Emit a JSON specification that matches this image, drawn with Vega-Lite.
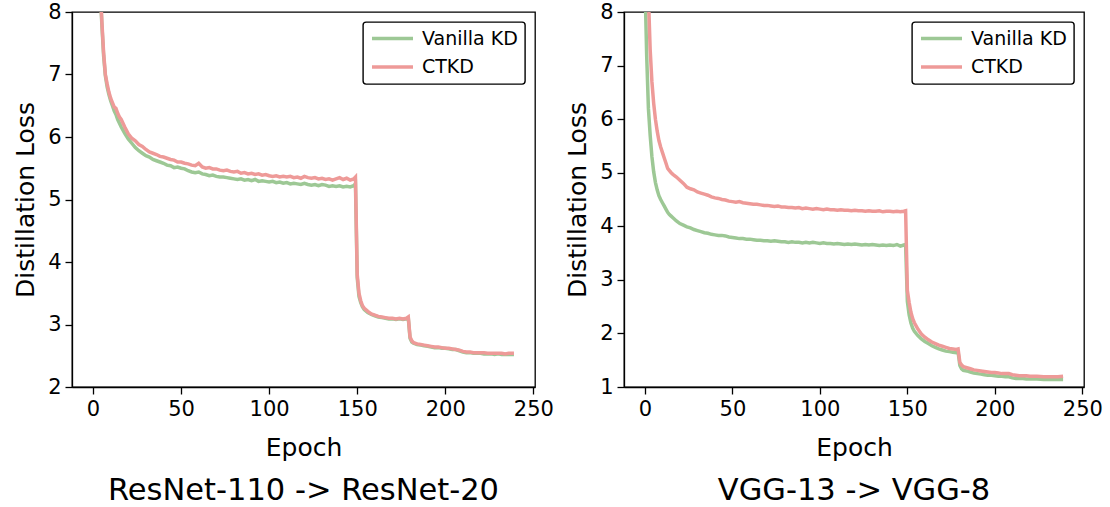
{
  "$schema": "https://vega.github.io/schema/vega-lite/v6.json",
  "background": "white",
  "padding": {"left": 12, "top": 0, "right": 0, "bottom": 0},
  "autosize": {"type": "pad"},
  "spacing": 89,
  "bounds": "flush",
  "config": {
    "font": "DejaVu Sans",
    "view": {"stroke": "black", "strokeWidth": 1.3},
    "axis": {
      "grid": false,
      "domainColor": "black",
      "domainWidth": 1.3,
      "tickColor": "black",
      "tickWidth": 1.3,
      "tickSize": 7,
      "labelFont": "DejaVu Sans",
      "labelFontSize": 21,
      "labelColor": "black",
      "labelPadding": 4,
      "titleFont": "DejaVu Sans",
      "titleFontSize": 25,
      "titleFontWeight": "normal",
      "titleColor": "black"
    },
    "axisY": {"titlePadding": 9},
    "axisX": {"titlePadding": 16},
    "legend": {
      "orient": "top-right",
      "offset": 10,
      "strokeColor": "black",
      "strokeWidth": 1.4,
      "cornerRadius": 3,
      "fillColor": "white",
      "padding": 7,
      "labelFont": "DejaVu Sans",
      "labelFontSize": 19,
      "labelColor": "black",
      "symbolType": "stroke",
      "symbolStrokeWidth": 3.5,
      "symbolSize": 1681,
      "clipHeight": 19,
      "rowPadding": 8.5,
      "labelOffset": 7
    },
    "title": {"font": "DejaVu Sans", "fontWeight": "normal", "fontSize": 30.5, "color": "black"}
  },
  "resolve": {"scale": {"y": "independent", "color": "independent"}, "legend": {"color": "independent"}},
  "datasets": {
    "resnet": [
      {"e": 0, "Vanilla KD": 12.0, "CTKD": 12.2},
      {"e": 1, "Vanilla KD": 10.9, "CTKD": 11.0},
      {"e": 2, "Vanilla KD": 9.9, "CTKD": 10.0},
      {"e": 3, "Vanilla KD": 9.1, "CTKD": 9.2},
      {"e": 4, "Vanilla KD": 8.4, "CTKD": 8.45},
      {"e": 5, "Vanilla KD": 7.8, "CTKD": 7.85},
      {"e": 6, "Vanilla KD": 7.3, "CTKD": 7.35},
      {"e": 7, "Vanilla KD": 6.98, "CTKD": 7.0},
      {"e": 8, "Vanilla KD": 6.8, "CTKD": 6.85},
      {"e": 9, "Vanilla KD": 6.68, "CTKD": 6.72},
      {"e": 10, "Vanilla KD": 6.58, "CTKD": 6.62},
      {"e": 11, "Vanilla KD": 6.5, "CTKD": 6.55},
      {"e": 12, "Vanilla KD": 6.42, "CTKD": 6.48},
      {"e": 13, "Vanilla KD": 6.36, "CTKD": 6.46},
      {"e": 14, "Vanilla KD": 6.28, "CTKD": 6.38},
      {"e": 15, "Vanilla KD": 6.22, "CTKD": 6.32},
      {"e": 16, "Vanilla KD": 6.16, "CTKD": 6.28},
      {"e": 18, "Vanilla KD": 6.06, "CTKD": 6.16},
      {"e": 20, "Vanilla KD": 5.97, "CTKD": 6.05},
      {"e": 22, "Vanilla KD": 5.9, "CTKD": 5.98},
      {"e": 24, "Vanilla KD": 5.83, "CTKD": 5.94},
      {"e": 26, "Vanilla KD": 5.78, "CTKD": 5.88},
      {"e": 28, "Vanilla KD": 5.74, "CTKD": 5.85},
      {"e": 30, "Vanilla KD": 5.7, "CTKD": 5.8},
      {"e": 32, "Vanilla KD": 5.68, "CTKD": 5.76},
      {"e": 34, "Vanilla KD": 5.64, "CTKD": 5.74},
      {"e": 36, "Vanilla KD": 5.62, "CTKD": 5.72},
      {"e": 38, "Vanilla KD": 5.6, "CTKD": 5.69},
      {"e": 40, "Vanilla KD": 5.58, "CTKD": 5.68},
      {"e": 42, "Vanilla KD": 5.55, "CTKD": 5.66},
      {"e": 44, "Vanilla KD": 5.54, "CTKD": 5.64},
      {"e": 46, "Vanilla KD": 5.51, "CTKD": 5.63},
      {"e": 48, "Vanilla KD": 5.52, "CTKD": 5.6},
      {"e": 50, "Vanilla KD": 5.5, "CTKD": 5.6},
      {"e": 52, "Vanilla KD": 5.49, "CTKD": 5.58},
      {"e": 54, "Vanilla KD": 5.46, "CTKD": 5.57},
      {"e": 56, "Vanilla KD": 5.44, "CTKD": 5.55},
      {"e": 58, "Vanilla KD": 5.43, "CTKD": 5.54},
      {"e": 60, "Vanilla KD": 5.44, "CTKD": 5.58},
      {"e": 62, "Vanilla KD": 5.41, "CTKD": 5.52},
      {"e": 64, "Vanilla KD": 5.4, "CTKD": 5.5},
      {"e": 66, "Vanilla KD": 5.38, "CTKD": 5.51},
      {"e": 68, "Vanilla KD": 5.39, "CTKD": 5.49},
      {"e": 70, "Vanilla KD": 5.37, "CTKD": 5.49},
      {"e": 72, "Vanilla KD": 5.36, "CTKD": 5.47},
      {"e": 74, "Vanilla KD": 5.36, "CTKD": 5.46},
      {"e": 76, "Vanilla KD": 5.35, "CTKD": 5.47},
      {"e": 78, "Vanilla KD": 5.34, "CTKD": 5.45},
      {"e": 80, "Vanilla KD": 5.33, "CTKD": 5.44},
      {"e": 82, "Vanilla KD": 5.32, "CTKD": 5.45},
      {"e": 84, "Vanilla KD": 5.33, "CTKD": 5.42},
      {"e": 86, "Vanilla KD": 5.31, "CTKD": 5.43},
      {"e": 88, "Vanilla KD": 5.32, "CTKD": 5.41},
      {"e": 90, "Vanilla KD": 5.3, "CTKD": 5.42},
      {"e": 92, "Vanilla KD": 5.32, "CTKD": 5.4},
      {"e": 94, "Vanilla KD": 5.29, "CTKD": 5.41},
      {"e": 96, "Vanilla KD": 5.3, "CTKD": 5.39},
      {"e": 98, "Vanilla KD": 5.29, "CTKD": 5.4},
      {"e": 100, "Vanilla KD": 5.28, "CTKD": 5.38},
      {"e": 102, "Vanilla KD": 5.29, "CTKD": 5.37},
      {"e": 104, "Vanilla KD": 5.27, "CTKD": 5.38},
      {"e": 106, "Vanilla KD": 5.28, "CTKD": 5.36},
      {"e": 108, "Vanilla KD": 5.26, "CTKD": 5.37},
      {"e": 110, "Vanilla KD": 5.27, "CTKD": 5.36},
      {"e": 112, "Vanilla KD": 5.25, "CTKD": 5.37},
      {"e": 114, "Vanilla KD": 5.26, "CTKD": 5.35},
      {"e": 116, "Vanilla KD": 5.25, "CTKD": 5.36},
      {"e": 118, "Vanilla KD": 5.24, "CTKD": 5.34},
      {"e": 120, "Vanilla KD": 5.26, "CTKD": 5.37},
      {"e": 122, "Vanilla KD": 5.24, "CTKD": 5.35},
      {"e": 124, "Vanilla KD": 5.23, "CTKD": 5.34},
      {"e": 126, "Vanilla KD": 5.24, "CTKD": 5.35},
      {"e": 128, "Vanilla KD": 5.22, "CTKD": 5.33},
      {"e": 130, "Vanilla KD": 5.24, "CTKD": 5.34},
      {"e": 132, "Vanilla KD": 5.23, "CTKD": 5.32},
      {"e": 134, "Vanilla KD": 5.21, "CTKD": 5.33},
      {"e": 136, "Vanilla KD": 5.22, "CTKD": 5.31},
      {"e": 138, "Vanilla KD": 5.21, "CTKD": 5.33},
      {"e": 140, "Vanilla KD": 5.22, "CTKD": 5.35},
      {"e": 142, "Vanilla KD": 5.2, "CTKD": 5.32},
      {"e": 144, "Vanilla KD": 5.21, "CTKD": 5.34},
      {"e": 146, "Vanilla KD": 5.2, "CTKD": 5.31},
      {"e": 148, "Vanilla KD": 5.22, "CTKD": 5.33},
      {"e": 149, "Vanilla KD": 5.25, "CTKD": 5.36},
      {"e": 150, "Vanilla KD": 3.75, "CTKD": 3.8},
      {"e": 151, "Vanilla KD": 3.45, "CTKD": 3.5},
      {"e": 152, "Vanilla KD": 3.35, "CTKD": 3.38},
      {"e": 153, "Vanilla KD": 3.28, "CTKD": 3.3},
      {"e": 154, "Vanilla KD": 3.24, "CTKD": 3.26},
      {"e": 156, "Vanilla KD": 3.19, "CTKD": 3.21},
      {"e": 158, "Vanilla KD": 3.16, "CTKD": 3.17},
      {"e": 160, "Vanilla KD": 3.14, "CTKD": 3.15},
      {"e": 162, "Vanilla KD": 3.12, "CTKD": 3.13},
      {"e": 164, "Vanilla KD": 3.11, "CTKD": 3.12},
      {"e": 166, "Vanilla KD": 3.1, "CTKD": 3.11},
      {"e": 168, "Vanilla KD": 3.09, "CTKD": 3.1},
      {"e": 170, "Vanilla KD": 3.09, "CTKD": 3.1},
      {"e": 172, "Vanilla KD": 3.08, "CTKD": 3.09},
      {"e": 174, "Vanilla KD": 3.09, "CTKD": 3.1},
      {"e": 176, "Vanilla KD": 3.08, "CTKD": 3.09},
      {"e": 178, "Vanilla KD": 3.09, "CTKD": 3.1},
      {"e": 179, "Vanilla KD": 3.1, "CTKD": 3.12},
      {"e": 180, "Vanilla KD": 2.78, "CTKD": 2.8},
      {"e": 181, "Vanilla KD": 2.72, "CTKD": 2.74},
      {"e": 182, "Vanilla KD": 2.7, "CTKD": 2.71},
      {"e": 184, "Vanilla KD": 2.68, "CTKD": 2.69},
      {"e": 186, "Vanilla KD": 2.67, "CTKD": 2.68},
      {"e": 188, "Vanilla KD": 2.66, "CTKD": 2.67},
      {"e": 190, "Vanilla KD": 2.65, "CTKD": 2.66},
      {"e": 192, "Vanilla KD": 2.64, "CTKD": 2.65},
      {"e": 194, "Vanilla KD": 2.63, "CTKD": 2.64},
      {"e": 196, "Vanilla KD": 2.63, "CTKD": 2.64},
      {"e": 198, "Vanilla KD": 2.62, "CTKD": 2.63},
      {"e": 200, "Vanilla KD": 2.62, "CTKD": 2.62},
      {"e": 202, "Vanilla KD": 2.61, "CTKD": 2.62},
      {"e": 204, "Vanilla KD": 2.6, "CTKD": 2.61},
      {"e": 206, "Vanilla KD": 2.6, "CTKD": 2.6},
      {"e": 208, "Vanilla KD": 2.58, "CTKD": 2.59},
      {"e": 210, "Vanilla KD": 2.56, "CTKD": 2.57},
      {"e": 212, "Vanilla KD": 2.55, "CTKD": 2.56},
      {"e": 214, "Vanilla KD": 2.55, "CTKD": 2.56},
      {"e": 216, "Vanilla KD": 2.54, "CTKD": 2.55},
      {"e": 218, "Vanilla KD": 2.54, "CTKD": 2.55},
      {"e": 220, "Vanilla KD": 2.54, "CTKD": 2.55},
      {"e": 222, "Vanilla KD": 2.53, "CTKD": 2.55},
      {"e": 224, "Vanilla KD": 2.53, "CTKD": 2.54},
      {"e": 226, "Vanilla KD": 2.53, "CTKD": 2.54},
      {"e": 228, "Vanilla KD": 2.52, "CTKD": 2.54},
      {"e": 230, "Vanilla KD": 2.53, "CTKD": 2.54},
      {"e": 232, "Vanilla KD": 2.52, "CTKD": 2.54},
      {"e": 234, "Vanilla KD": 2.52, "CTKD": 2.53},
      {"e": 236, "Vanilla KD": 2.52, "CTKD": 2.54},
      {"e": 238, "Vanilla KD": 2.52, "CTKD": 2.54},
      {"e": 239, "Vanilla KD": 2.52, "CTKD": 2.54}
    ],
    "vgg": [
      {"e": 0, "Vanilla KD": 8.6, "CTKD": 11.5},
      {"e": 1, "Vanilla KD": 7.2, "CTKD": 9.5},
      {"e": 2, "Vanilla KD": 6.2, "CTKD": 8.3},
      {"e": 3, "Vanilla KD": 5.7, "CTKD": 7.3},
      {"e": 4, "Vanilla KD": 5.3, "CTKD": 6.7},
      {"e": 5, "Vanilla KD": 5.02, "CTKD": 6.3},
      {"e": 6, "Vanilla KD": 4.82, "CTKD": 6.0},
      {"e": 7, "Vanilla KD": 4.68, "CTKD": 5.78},
      {"e": 8, "Vanilla KD": 4.57, "CTKD": 5.6},
      {"e": 9, "Vanilla KD": 4.5, "CTKD": 5.48},
      {"e": 10, "Vanilla KD": 4.44, "CTKD": 5.38},
      {"e": 11, "Vanilla KD": 4.38, "CTKD": 5.28},
      {"e": 12, "Vanilla KD": 4.32, "CTKD": 5.18},
      {"e": 13, "Vanilla KD": 4.26, "CTKD": 5.08},
      {"e": 14, "Vanilla KD": 4.22, "CTKD": 5.04},
      {"e": 15, "Vanilla KD": 4.19, "CTKD": 5.0},
      {"e": 16, "Vanilla KD": 4.16, "CTKD": 4.97},
      {"e": 18, "Vanilla KD": 4.1, "CTKD": 4.92},
      {"e": 20, "Vanilla KD": 4.05, "CTKD": 4.86},
      {"e": 22, "Vanilla KD": 4.02, "CTKD": 4.8},
      {"e": 24, "Vanilla KD": 3.99, "CTKD": 4.73},
      {"e": 26, "Vanilla KD": 3.97, "CTKD": 4.7},
      {"e": 28, "Vanilla KD": 3.94, "CTKD": 4.68},
      {"e": 30, "Vanilla KD": 3.92, "CTKD": 4.64},
      {"e": 32, "Vanilla KD": 3.9, "CTKD": 4.62},
      {"e": 34, "Vanilla KD": 3.88, "CTKD": 4.6},
      {"e": 36, "Vanilla KD": 3.87, "CTKD": 4.58},
      {"e": 38, "Vanilla KD": 3.85, "CTKD": 4.55},
      {"e": 40, "Vanilla KD": 3.84, "CTKD": 4.53},
      {"e": 42, "Vanilla KD": 3.83, "CTKD": 4.52},
      {"e": 44, "Vanilla KD": 3.83, "CTKD": 4.5},
      {"e": 46, "Vanilla KD": 3.82, "CTKD": 4.49},
      {"e": 48, "Vanilla KD": 3.8, "CTKD": 4.47},
      {"e": 50, "Vanilla KD": 3.79, "CTKD": 4.46},
      {"e": 52, "Vanilla KD": 3.78, "CTKD": 4.45},
      {"e": 54, "Vanilla KD": 3.77, "CTKD": 4.46},
      {"e": 56, "Vanilla KD": 3.77, "CTKD": 4.44},
      {"e": 58, "Vanilla KD": 3.76, "CTKD": 4.43},
      {"e": 60, "Vanilla KD": 3.76, "CTKD": 4.42},
      {"e": 62, "Vanilla KD": 3.75, "CTKD": 4.41},
      {"e": 64, "Vanilla KD": 3.74, "CTKD": 4.41},
      {"e": 66, "Vanilla KD": 3.74, "CTKD": 4.4},
      {"e": 68, "Vanilla KD": 3.73, "CTKD": 4.39},
      {"e": 70, "Vanilla KD": 3.73, "CTKD": 4.39},
      {"e": 72, "Vanilla KD": 3.72, "CTKD": 4.38},
      {"e": 74, "Vanilla KD": 3.73, "CTKD": 4.37},
      {"e": 76, "Vanilla KD": 3.72, "CTKD": 4.38},
      {"e": 78, "Vanilla KD": 3.71, "CTKD": 4.36},
      {"e": 80, "Vanilla KD": 3.71, "CTKD": 4.36},
      {"e": 82, "Vanilla KD": 3.7, "CTKD": 4.35},
      {"e": 84, "Vanilla KD": 3.71, "CTKD": 4.35},
      {"e": 86, "Vanilla KD": 3.7, "CTKD": 4.34},
      {"e": 88, "Vanilla KD": 3.7, "CTKD": 4.35},
      {"e": 90, "Vanilla KD": 3.69, "CTKD": 4.33},
      {"e": 92, "Vanilla KD": 3.7, "CTKD": 4.34},
      {"e": 94, "Vanilla KD": 3.69, "CTKD": 4.33},
      {"e": 96, "Vanilla KD": 3.7, "CTKD": 4.32},
      {"e": 98, "Vanilla KD": 3.69, "CTKD": 4.33},
      {"e": 100, "Vanilla KD": 3.68, "CTKD": 4.32},
      {"e": 102, "Vanilla KD": 3.69, "CTKD": 4.31},
      {"e": 104, "Vanilla KD": 3.68, "CTKD": 4.32},
      {"e": 106, "Vanilla KD": 3.68, "CTKD": 4.31},
      {"e": 108, "Vanilla KD": 3.67, "CTKD": 4.31},
      {"e": 110, "Vanilla KD": 3.68, "CTKD": 4.3},
      {"e": 112, "Vanilla KD": 3.67, "CTKD": 4.31},
      {"e": 114, "Vanilla KD": 3.66, "CTKD": 4.3},
      {"e": 116, "Vanilla KD": 3.67, "CTKD": 4.3},
      {"e": 118, "Vanilla KD": 3.66, "CTKD": 4.29},
      {"e": 120, "Vanilla KD": 3.67, "CTKD": 4.3},
      {"e": 122, "Vanilla KD": 3.66, "CTKD": 4.29},
      {"e": 124, "Vanilla KD": 3.65, "CTKD": 4.29},
      {"e": 126, "Vanilla KD": 3.66, "CTKD": 4.28},
      {"e": 128, "Vanilla KD": 3.65, "CTKD": 4.29},
      {"e": 130, "Vanilla KD": 3.66, "CTKD": 4.28},
      {"e": 132, "Vanilla KD": 3.65, "CTKD": 4.28},
      {"e": 134, "Vanilla KD": 3.64, "CTKD": 4.29},
      {"e": 136, "Vanilla KD": 3.65, "CTKD": 4.27},
      {"e": 138, "Vanilla KD": 3.64, "CTKD": 4.28},
      {"e": 140, "Vanilla KD": 3.65, "CTKD": 4.28},
      {"e": 142, "Vanilla KD": 3.64, "CTKD": 4.27},
      {"e": 144, "Vanilla KD": 3.66, "CTKD": 4.28},
      {"e": 146, "Vanilla KD": 3.63, "CTKD": 4.27},
      {"e": 148, "Vanilla KD": 3.65, "CTKD": 4.28},
      {"e": 149, "Vanilla KD": 3.66, "CTKD": 4.29},
      {"e": 150, "Vanilla KD": 2.6, "CTKD": 2.8},
      {"e": 151, "Vanilla KD": 2.35, "CTKD": 2.58},
      {"e": 152, "Vanilla KD": 2.2, "CTKD": 2.4},
      {"e": 153, "Vanilla KD": 2.1, "CTKD": 2.28},
      {"e": 154, "Vanilla KD": 2.04, "CTKD": 2.2},
      {"e": 156, "Vanilla KD": 1.96, "CTKD": 2.08},
      {"e": 158, "Vanilla KD": 1.9, "CTKD": 1.99},
      {"e": 160, "Vanilla KD": 1.85, "CTKD": 1.93},
      {"e": 162, "Vanilla KD": 1.81, "CTKD": 1.88},
      {"e": 164, "Vanilla KD": 1.77, "CTKD": 1.84},
      {"e": 166, "Vanilla KD": 1.74, "CTKD": 1.81},
      {"e": 168, "Vanilla KD": 1.71, "CTKD": 1.78},
      {"e": 170, "Vanilla KD": 1.69, "CTKD": 1.76},
      {"e": 172, "Vanilla KD": 1.67, "CTKD": 1.74},
      {"e": 174, "Vanilla KD": 1.66, "CTKD": 1.72},
      {"e": 176, "Vanilla KD": 1.65, "CTKD": 1.71},
      {"e": 178, "Vanilla KD": 1.64, "CTKD": 1.7},
      {"e": 179, "Vanilla KD": 1.65, "CTKD": 1.71},
      {"e": 180, "Vanilla KD": 1.4, "CTKD": 1.46},
      {"e": 181, "Vanilla KD": 1.34, "CTKD": 1.41},
      {"e": 182, "Vanilla KD": 1.31, "CTKD": 1.38},
      {"e": 184, "Vanilla KD": 1.3, "CTKD": 1.36},
      {"e": 186, "Vanilla KD": 1.28, "CTKD": 1.34},
      {"e": 188, "Vanilla KD": 1.26, "CTKD": 1.32},
      {"e": 190, "Vanilla KD": 1.25, "CTKD": 1.31},
      {"e": 192, "Vanilla KD": 1.24, "CTKD": 1.3},
      {"e": 194, "Vanilla KD": 1.23, "CTKD": 1.29},
      {"e": 196, "Vanilla KD": 1.22, "CTKD": 1.28},
      {"e": 198, "Vanilla KD": 1.22, "CTKD": 1.27},
      {"e": 200, "Vanilla KD": 1.21, "CTKD": 1.27},
      {"e": 202, "Vanilla KD": 1.2, "CTKD": 1.26},
      {"e": 204, "Vanilla KD": 1.2, "CTKD": 1.25},
      {"e": 206, "Vanilla KD": 1.19, "CTKD": 1.25},
      {"e": 208, "Vanilla KD": 1.19, "CTKD": 1.25},
      {"e": 210, "Vanilla KD": 1.17, "CTKD": 1.23},
      {"e": 212, "Vanilla KD": 1.16, "CTKD": 1.22},
      {"e": 214, "Vanilla KD": 1.16, "CTKD": 1.21},
      {"e": 216, "Vanilla KD": 1.16, "CTKD": 1.21},
      {"e": 218, "Vanilla KD": 1.15, "CTKD": 1.21},
      {"e": 220, "Vanilla KD": 1.15, "CTKD": 1.2},
      {"e": 224, "Vanilla KD": 1.15, "CTKD": 1.2},
      {"e": 228, "Vanilla KD": 1.14, "CTKD": 1.19},
      {"e": 232, "Vanilla KD": 1.14, "CTKD": 1.19},
      {"e": 236, "Vanilla KD": 1.14, "CTKD": 1.19},
      {"e": 239, "Vanilla KD": 1.14, "CTKD": 1.2}
    ]
  },
  "hconcat": [
    {
      "width": 463,
      "height": 375,
      "data": {"name": "resnet"},
      "transform": [{"fold": ["Vanilla KD", "CTKD"], "as": ["series", "loss"]}],
      "title": {"text": "ResNet-110 -> ResNet-20", "orient": "bottom", "offset": 16},
      "mark": {"type": "line", "clip": true, "strokeWidth": 3.5},
      "encoding": {
        "x": {"field": "e", "type": "quantitative", "scale": {"domain": [-11.95, 250.95], "nice": false, "zero": false}, "axis": {"values": [0, 50, 100, 150, 200, 250], "title": "Epoch"}},
        "y": {"field": "loss", "type": "quantitative", "scale": {"domain": [2, 8], "nice": false, "zero": false}, "axis": {"values": [2, 3, 4, 5, 6, 7, 8], "title": "Distillation Loss"}},
        "color": {"field": "series", "type": "nominal", "sort": ["Vanilla KD", "CTKD"], "scale": {"domain": ["Vanilla KD", "CTKD"], "range": ["#9dc895", "#ee9a98"]}, "legend": {"title": null}},
        "order": {"field": "e", "type": "quantitative"}
      }
    },
    {
      "width": 460,
      "height": 375,
      "data": {"name": "vgg"},
      "transform": [{"fold": ["Vanilla KD", "CTKD"], "as": ["series", "loss"]}],
      "title": {"text": "VGG-13 -> VGG-8", "orient": "bottom", "offset": 16},
      "mark": {"type": "line", "clip": true, "strokeWidth": 3.5},
      "encoding": {
        "x": {"field": "e", "type": "quantitative", "scale": {"domain": [-11.95, 250.95], "nice": false, "zero": false}, "axis": {"values": [0, 50, 100, 150, 200, 250], "title": "Epoch"}},
        "y": {"field": "loss", "type": "quantitative", "scale": {"domain": [1, 8], "nice": false, "zero": false}, "axis": {"values": [1, 2, 3, 4, 5, 6, 7, 8], "title": "Distillation Loss"}},
        "color": {"field": "series", "type": "nominal", "sort": ["Vanilla KD", "CTKD"], "scale": {"domain": ["Vanilla KD", "CTKD"], "range": ["#9dc895", "#ee9a98"]}, "legend": {"title": null}},
        "order": {"field": "e", "type": "quantitative"}
      }
    }
  ]
}
